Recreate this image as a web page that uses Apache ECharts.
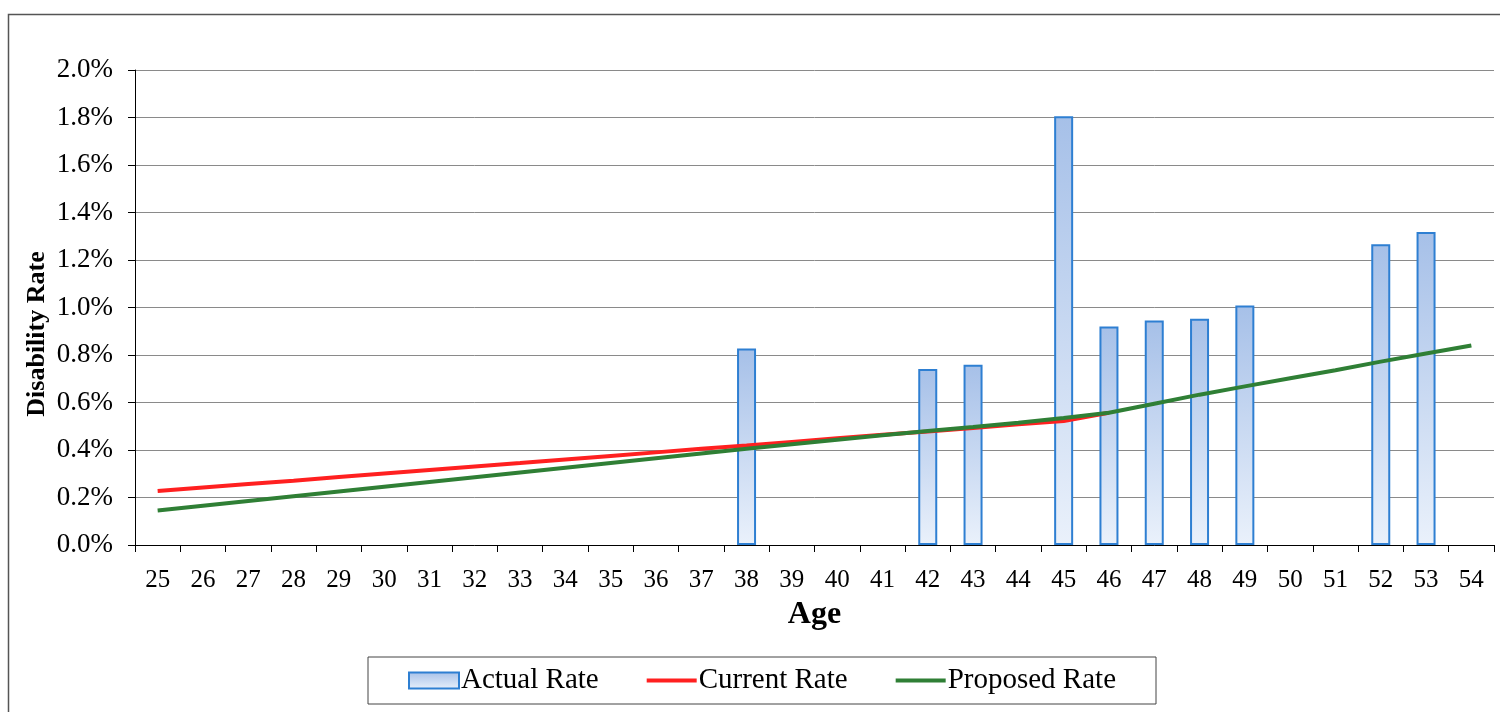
<!DOCTYPE html>
<html>
<head>
<meta charset="utf-8">
<script src="https://cdn.jsdelivr.net/npm/echarts@6/dist/echarts.min.js"></script>
<style>html,body{margin:0;padding:0;background:#fff;}#c{width:1500px;height:712px;}</style>
</head>
<body>
<div id="c"></div>
<script>
const ages = ['25','26','27','28','29','30','31','32','33','34','35','36','37','38','39','40','41','42','43','44','45','46','47','48','49','50','51','52','53','54'];
// values in percent
const actualRate = [null,null,null,null,null,null,null,null,null,null,null,null,null,0.827,null,null,null,0.741,0.759,null,1.805,0.920,0.945,0.953,1.008,null,null,1.266,1.318,null];
const currentRate = [0.227,0.242,0.257,0.271,0.286,0.301,0.316,0.331,0.345,0.360,0.375,0.390,0.405,0.419,0.434,0.449,0.464,0.478,0.493,0.508,0.522,0.557,null,null,null,null,null,null,null,null];
const proposedRate = [0.145,0.165,0.185,0.205,0.225,0.245,0.265,0.285,0.305,0.325,0.345,0.365,0.385,0.405,0.424,0.443,0.462,0.480,0.497,0.515,0.535,0.557,0.595,0.633,0.668,0.702,0.736,0.772,0.806,0.840];
const yTicks = {min: 0, max: 2.0, interval: 0.2};

const chart = echarts.init(document.getElementById('c'), null, {renderer: 'canvas'});
const serif = 'Liberation Serif, Times New Roman, serif';
chart.setOption({
  backgroundColor: '#fff',
  animation: false,
  textStyle: {fontFamily: serif, color: '#000'},
  grid: {left: 135, right: 6, top: 70, bottom: 167, containLabel: false},
  graphic: [
    {type: 'rect', shape: {x: 8.5, y: 14.5, width: 1600, height: 800}, style: {fill: 'none', stroke: '#555', lineWidth: 1.5}, silent: true},
    {type: 'text', x: 37, y: 334, rotation: Math.PI/2, style: {text: 'Disability Rate', font: 'bold 26px ' + serif, fill: '#000', textAlign: 'center', textVerticalAlign: 'middle'}}
  ],
  legend: {
    left: 368, top: 657,
    padding: [9, 40, 9, 40],
    borderColor: '#444', borderWidth: 1,
    itemWidth: 50, itemHeight: 16, itemGap: 46,
    textStyle: {fontFamily: serif, fontSize: 29, color: '#000', padding: [0, 0, 0, -3]},
    data: [
      {name: 'Actual Rate', icon: 'rect'},
      {name: 'Current Rate', itemStyle: {opacity: 0}, lineStyle: {width: 4}},
      {name: 'Proposed Rate', itemStyle: {opacity: 0}, lineStyle: {width: 4}}
    ]
  },
  xAxis: {
    type: 'category', data: ages, boundaryGap: true,
    name: 'Age', nameLocation: 'middle', nameGap: 54,
    nameTextStyle: {fontFamily: serif, fontSize: 32, fontWeight: 'bold', color: '#000'},
    axisLine: {lineStyle: {color: '#000', width: 1}},
    axisTick: {show: true, alignWithLabel: false, length: 7, lineStyle: {color: '#000'}},
    axisLabel: {fontFamily: serif, fontSize: 25, color: '#000', margin: 23, interval: 0}
  },
  yAxis: {
    type: 'value', min: yTicks.min, max: yTicks.max, interval: yTicks.interval,
    axisLine: {show: true, lineStyle: {color: '#000', width: 1}},
    axisTick: {show: true, inside: false, length: 7, lineStyle: {color: '#000'}},
    axisLabel: {fontFamily: serif, fontSize: 27, color: '#000', margin: 22, formatter: v => v.toFixed(1) + '%'},
    splitLine: {show: true, lineStyle: {color: '#8a8a8a', width: 1}}
  },
  series: [
    {
      name: 'Actual Rate', type: 'bar', data: actualRate, barWidth: 19,
      itemStyle: {
        color: new echarts.graphic.LinearGradient(0, 0, 0, 1, [
          {offset: 0, color: '#a6c0e8'}, {offset: 1, color: '#eaf1fb'}
        ]),
        borderColor: '#2e7fd2', borderWidth: 2
      },
      z: 2
    },
    {
      name: 'Current Rate', type: 'line', data: currentRate, symbol: 'none', showSymbol: false,
      lineStyle: {color: '#ff2020', width: 4}, itemStyle: {color: '#ff2020'}, z: 3
    },
    {
      name: 'Proposed Rate', type: 'line', data: proposedRate, symbol: 'none', showSymbol: false,
      lineStyle: {color: '#2f7f35', width: 4}, itemStyle: {color: '#2f7f35'}, z: 4
    }
  ]
});
</script>
</body>
</html>
